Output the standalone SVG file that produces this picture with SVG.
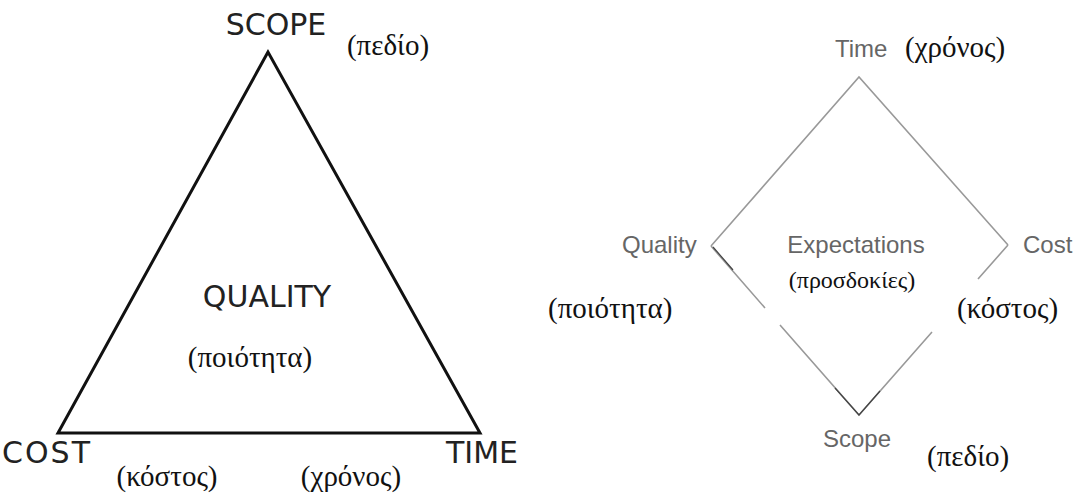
<svg xmlns="http://www.w3.org/2000/svg" width="1079" height="493" viewBox="0 0 1079 493">
<style>
.bg{fill:#fff}
.tri{fill:none;stroke:#111;stroke-width:3;stroke-linejoin:miter}
.dia{fill:none;stroke:#999;stroke-width:1.6}
.dark{fill:none;stroke:#444;stroke-width:1.2}
.capl{font-family:"DejaVu Sans",sans-serif;font-size:30px;fill:#222}
.gr{font-family:"Liberation Serif","Times New Roman",serif;font-size:29px;fill:#111}
.grs{font-family:"Liberation Serif","Times New Roman",serif;font-size:24px;fill:#111}
.gs{font-family:"Liberation Sans",Arial,sans-serif;font-size:24px;fill:#666}
</style>
<rect class="bg" x="0" y="0" width="1079" height="493"/>
<g id="connectors">
  <path class="tri" d="M268,52 L58,433 L480,433 Z"/>
  <path class="dia" d="M711,246 L859,77 L1008,245"/>
  <path class="dia" d="M711,246 L765,308 M780,325 L859,415 L932,332 M978,279 L1008,245"/>
  <path class="dark" d="M713,247 L733,270 M835,388 L859,415 L880,391"/>
</g>
<g id="scope-tri"><text class="capl" x="276" y="35" text-anchor="middle">SCOPE</text><text class="gr" x="388" y="55" text-anchor="middle">(πεδίο)</text></g>
<g id="quality-tri"><text class="capl" x="267" y="307" text-anchor="middle">QUALITY</text><text class="gr" x="250" y="367" text-anchor="middle">(ποιότητα)</text></g>
<g id="cost-tri"><text class="capl" x="2" y="463" textLength="88">COST</text><text class="gr" x="167" y="486" text-anchor="middle">(κόστος)</text></g>
<g id="time-tri"><text class="capl" x="518" y="463" text-anchor="end">TIME</text><text class="gr" x="351" y="486" text-anchor="middle">(χρόνος)</text></g>
<g id="time-dia"><text class="gs" x="835" y="57" font-size="23">Time</text><text class="gr" x="905" y="57">(χρόνος)</text></g>
<g id="quality-dia"><text class="gs" x="622" y="253">Quality</text><text class="gr" x="548" y="318">(ποιότητα)</text></g>
<g id="cost-dia"><text class="gs" x="1023" y="253">Cost</text><text class="gr" x="957" y="318">(κόστος)</text></g>
<g id="expectations"><text class="gs" x="856" y="253" text-anchor="middle">Expectations</text><text class="grs" x="852" y="288" text-anchor="middle">(προσδοκίες)</text></g>
<g id="scope-dia"><text class="gs" x="823" y="447" font-size="25">Scope</text><text class="gr" x="927" y="466">(πεδίο)</text></g>
</svg>
